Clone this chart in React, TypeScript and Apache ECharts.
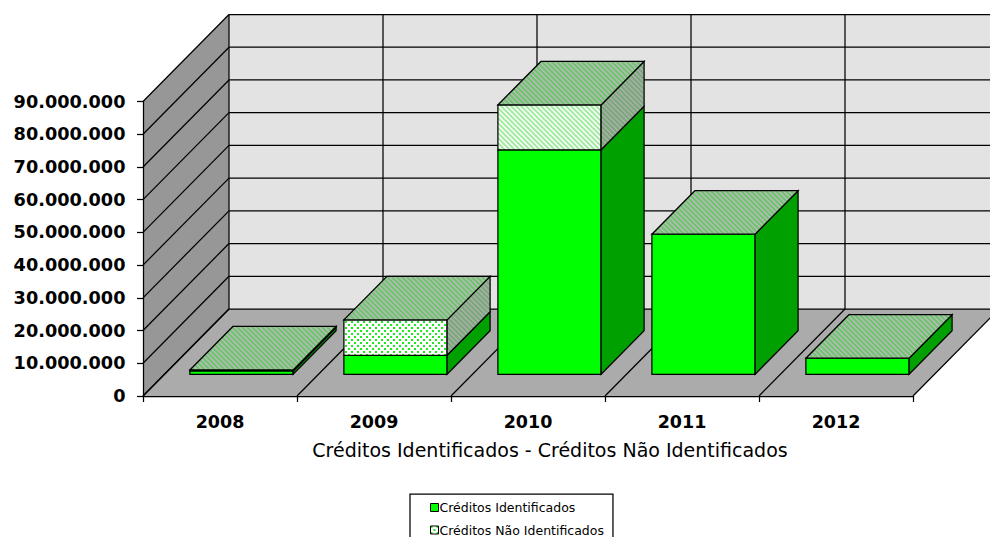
import React, { useEffect, useRef } from "react";
import * as echarts from "echarts";

const years = ["2008", "2009", "2010", "2011", "2012"];
const identified = [1000000, 5800000, 68600000, 42800000, 4900000];
const unidentified = [300000, 10800000, 13700000, 0, 0];
const valueTicks = [0, 10000000, 20000000, 30000000, 40000000, 50000000, 60000000, 70000000, 80000000, 90000000];
const axisTitle = "Créditos Identificados - Créditos Não Identificados";
const identifiedName = "Créditos Identificados";
const unidentifiedName = "Créditos Não Identificados";

// Oblique projection of the 3D box: how far the back plane sits from the front plane.
const DEPTH_X = 86;
const DEPTH_Y = -87;
const BAR_WIDTH_RATIO = 0.67;
const BAR_DEPTH_START = 0.25;
const BAR_DEPTH_END = 0.75;
const EDGE_WIDTH = 1.25;

const hatch = (fg: string, bg: string, size: number, mode: "diag" | "dots") => {
  const c = document.createElement("canvas");
  c.width = size;
  c.height = size;
  const g = c.getContext("2d")!;
  g.fillStyle = bg;
  g.fillRect(0, 0, size, size);
  if (mode === "diag") {
    g.strokeStyle = fg;
    g.lineWidth = size / 2.4;
    for (let k = -1; k <= 1; k++) {
      g.beginPath();
      g.moveTo(k * size - 1, -1);
      g.lineTo(k * size + size + 1, size + 1);
      g.stroke();
    }
  } else {
    // Staggered dots.
    g.fillStyle = fg;
    g.fillRect(0, 0, size / 3, size / 3);
    g.fillRect(size / 2, size / 2, size / 3, size / 3);
  }
  return { image: c.toDataURL(), repeat: "repeat", imageWidth: size, imageHeight: size };
};

const App = () => {
  const ref = useRef<HTMLDivElement>(null);
  useEffect(() => {
    document.body.style.margin = "0";
    const chart = echarts.init(ref.current!, null, { renderer: "svg" });

    const topFill = hatch("#70c470", "#b6bcb6", 5, "diag");
    const sideFill = hatch("#7ca87c", "#aab0aa", 5, "diag");
    const frontDiag = hatch("#a4eca4", "#ffffff", 5, "diag");
    const frontDots = hatch("#20e820", "#ffffff", 6, "dots");

    const line = (x1: number, y1: number, x2: number, y2: number, stroke = "#000") => ({
      type: "line",
      shape: { x1, y1, x2, y2 },
      style: { stroke, lineWidth: EDGE_WIDTH },
    });
    const poly = (points: number[][], fill: any, stroke: any = "#000", lineWidth = EDGE_WIDTH) => ({
      type: "polygon",
      shape: { points },
      style: { fill, stroke, lineWidth },
    });

    // Side wall, back wall and floor with their gridlines.
    const renderWalls = (_: any, api: any) => {
      const [x0, y0] = api.coord([0, 0]);
      const band = api.size([1, 0])[0];
      const left = x0 - band / 2;
      const right = left + band * years.length;
      const yTop = api.coord([0, valueTicks[valueTicks.length - 1]])[1];
      const children: any[] = [
        poly([[left, y0], [left + DEPTH_X, y0 + DEPTH_Y], [left + DEPTH_X, yTop + DEPTH_Y], [left, yTop]], "#979797", "none"),
        poly([[left + DEPTH_X, y0 + DEPTH_Y], [right + DEPTH_X, y0 + DEPTH_Y], [right + DEPTH_X, yTop + DEPTH_Y], [left + DEPTH_X, yTop + DEPTH_Y]], "#e3e3e3", "none"),
        poly([[left, y0], [left + DEPTH_X, y0 + DEPTH_Y], [right + DEPTH_X, y0 + DEPTH_Y], [right, y0]], "#ababab", "none"),
      ];
      valueTicks.forEach((v) => {
        const y = api.coord([0, v])[1];
        children.push(line(left, y, left + DEPTH_X, y + DEPTH_Y));
        children.push(line(left + DEPTH_X, y + DEPTH_Y, right + DEPTH_X, y + DEPTH_Y));
      });
      years.forEach((_y, i) => {
        const x = left + band * i;
        children.push(line(x + DEPTH_X, y0 + DEPTH_Y, x + DEPTH_X, yTop + DEPTH_Y));
        children.push(line(x, y0, x + DEPTH_X, y0 + DEPTH_Y));
      });
      children.push(line(right, y0, right + DEPTH_X, y0 + DEPTH_Y));
      return { type: "group", children };
    };

    // One stacked segment of a 3D column; the upper series also closes the column with its top face.
    const renderSegment = (upper: boolean) => (_: any, api: any) => {
      const i = api.value(0);
      const base = api.value(1);
      const value = api.value(2);
      const [cx, yBase] = api.coord([i, base]);
      const yEnd = api.coord([i, base + value])[1];
      const half = (api.size([1, 0])[0] * BAR_WIDTH_RATIO) / 2;
      const ax = BAR_DEPTH_START * DEPTH_X;
      const ay = BAR_DEPTH_START * DEPTH_Y;
      const bx = BAR_DEPTH_END * DEPTH_X;
      const by = BAR_DEPTH_END * DEPTH_Y;
      const fl = cx - half + ax;
      const fr = cx + half + ax;
      const br = cx + half + bx;
      const bl = cx - half + bx;
      const front = upper ? (years[i] === "2009" ? frontDots : frontDiag) : "#00ff00";
      const side = upper ? sideFill : "#00a000";
      const children: any[] = [];
      if (value > 0) {
        children.push(poly([[fl, yBase + ay], [fr, yBase + ay], [fr, yEnd + ay], [fl, yEnd + ay]], front));
        children.push(poly([[fr, yBase + ay], [br, yBase + by], [br, yEnd + by], [fr, yEnd + ay]], side));
      }
      if (upper) {
        children.push(poly([[fl, yEnd + ay], [fr, yEnd + ay], [br, yEnd + by], [bl, yEnd + by]], topFill));
      }
      return { type: "group", children };
    };

    chart.setOption({
      animation: false,
      backgroundColor: "#ffffff",
      title: {
        text: axisTitle,
        left: 545,
        top: 435,
        textAlign: "center",
        textStyle: { fontFamily: "DejaVu Sans", fontSize: 19, fontWeight: "normal", color: "#000" },
      },
      legend: {
        orient: "vertical",
        left: 410,
        top: 494,
        height: 70,
        padding: [7, 9, 20, 20],
        itemWidth: 8,
        itemHeight: 8,
        itemGap: 9.5,
        borderColor: "#000",
        borderWidth: 1.25,
        textStyle: { fontFamily: "DejaVu Sans", fontSize: 12.5, color: "#000", padding: [0, 0, 0, -4] },
        data: [
          { name: identifiedName, icon: "rect", itemStyle: { color: "#00ff00", borderColor: "#000", borderWidth: 1 } },
          { name: unidentifiedName, icon: "rect", itemStyle: { color: frontDots, borderColor: "#000", borderWidth: 1 } },
        ],
      },
      grid: { left: 143, right: 77, top: 101.5, bottom: 141, containLabel: false },
      xAxis: {
        type: "category",
        data: years,
        z: 3,
        axisLine: { show: true, onZero: false, lineStyle: { color: "#000", width: 1.25 } },
        axisTick: { show: true, length: 6, inside: false, lineStyle: { color: "#000", width: 1.25 } },
        axisLabel: { margin: 17, color: "#000", fontFamily: "DejaVu Sans", fontWeight: "bold", fontSize: 17.5 },
        splitLine: { show: false },
      },
      yAxis: {
        type: "value",
        min: 0,
        max: 90000000,
        interval: 10000000,
        z: 3,
        axisLine: { show: true, onZero: false, lineStyle: { color: "#000", width: 1.25 } },
        axisTick: { show: true, length: 6, inside: false, lineStyle: { color: "#000", width: 1.25 } },
        axisLabel: {
          margin: 17.5,
          color: "#000",
          fontFamily: "DejaVu Sans",
          fontWeight: "bold",
          fontSize: 17.7,
          formatter: (v: number) => String(v).replace(/\B(?=(\d{3})+$)/g, "."),
        },
        splitLine: { show: false },
      },
      series: [
        {
          type: "custom",
          silent: true,
          z: 1,
          renderItem: renderWalls,
          encode: { x: 0, y: 1 },
          data: [[0, 0]],
        },
        {
          name: identifiedName,
          type: "custom",
          z: 2,
          itemStyle: { color: "#00ff00" },
          renderItem: renderSegment(false),
          encode: { x: 0, y: 2 },
          data: years.map((_, i) => [i, 0, identified[i]]),
        },
        {
          name: unidentifiedName,
          type: "custom",
          z: 2,
          itemStyle: { color: "#ffffff" },
          renderItem: renderSegment(true),
          encode: { x: 0, y: 2 },
          data: years.map((_, i) => [i, identified[i], unidentified[i]]),
        },
      ],
    });
    return () => chart.dispose();
  }, []);
  return <div ref={ref} style={{ width: 990, height: 537, overflow: "hidden" }} />;
};

export default App;
